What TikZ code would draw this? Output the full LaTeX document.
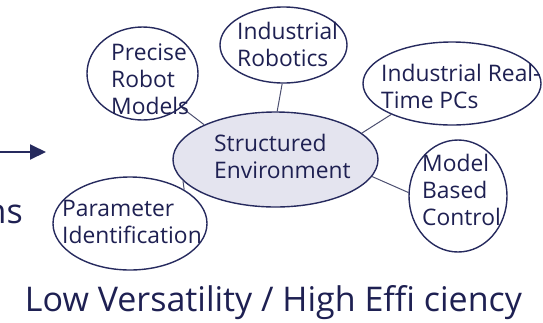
\documentclass[tikz,border=0pt]{standalone}
\usepackage{fontspec}
\setmainfont{Open Sans}
\usetikzlibrary{arrows.meta,shapes.geometric}
\definecolor{LineClr}{HTML}{262A5E}
\definecolor{TextClr}{HTML}{1E2052}
\definecolor{LinkClr}{HTML}{4C4F70}
\definecolor{HubClr}{HTML}{E4E4EF}

\tikzset{
  topic/.style={ellipse,draw=LineClr,line width=1.4pt,fill=white,inner sep=0pt},
  hub/.style={topic,fill=HubClr},
  lbl/.style={text=TextClr,align=left,inner sep=0pt,font=\fontsize{22.8}{27}\selectfont},
  big/.style={text=TextClr,inner sep=0pt,font=\fontsize{34}{40}\selectfont},
  link/.style={draw=LinkClr,line width=1pt},
}

\begin{document}
\begin{tikzpicture}[x=1pt,y=-1pt]
\useasboundingbox (0,0) rectangle (543,322);

% hub and the topics round it
\node[hub,minimum width=205pt,minimum height=95pt] (env) at (275.5,159.5) {};
\node[topic,minimum width=111pt,minimum height=93pt] (prm) at (142.5,73.5) {};
\node[topic,minimum width=127pt,minimum height=76pt] (ir) at (283.5,45) {};
\node[topic,minimum width=178pt,minimum height=83pt] (rtpc) at (452,83.5) {};
\node[topic,minimum width=98pt,minimum height=112pt] (mbc) at (458,196) {};
\node[topic,minimum width=154pt,minimum height=93pt] (pi) at (130,223.5) {};

% spokes
\draw[link] (prm.-41) -- (env.154);
\draw[link] (ir.-92) -- (env.88);
\draw[link] (rtpc.207) -- (env.17);
\draw[link] (mbc.176) -- (env.-10);
\draw[link] (pi.32) -- (env.193);

\node[lbl,anchor=west] (envtxt) at (214,156) {Structured\\Environment};
\node[lbl,anchor=west] (prmtxt) at (111,79) {Precise\\Robot\\Models};
\node[lbl,anchor=west] (irtxt) at (237,44) {Industrial\\Robotics};
\node[lbl,anchor=west] (rtpctxt) at (381,86) {Industrial Real-\\Time PCs};
\node[lbl,anchor=west] (mbctxt) at (422,190) {Model\\Based\\Control};
\node[lbl,anchor=west] (pitxt) at (62,222) {Parameter\\Identification};

% arrow coming in from the left
\coordinate (arrs) at (0,152);
\coordinate (arre) at (46,152);
\draw[LineClr,line width=2pt,-{Triangle[length=16pt,width=15pt]}] (arrs) -- (arre);
\node[big,anchor=base east] (cut) at (23,223) {ns};

\node[big,anchor=base] (motto) at (273.5,311) {Low Versatility / High Effi ciency};
\end{tikzpicture}
\end{document}
